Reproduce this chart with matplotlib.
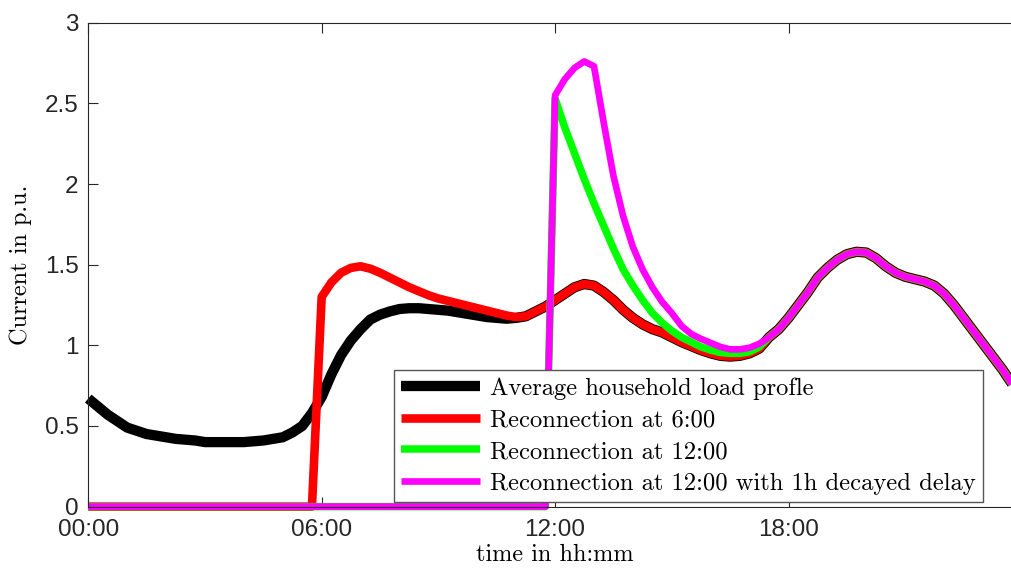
import numpy as np
import matplotlib.pyplot as plt

# time axis in hours, 15 minute steps over one day
hours = np.arange(0, 24.01, 0.25)

# average household load profile (p.u.)
avg_load = [
    0.67, 0.62, 0.57, 0.53, 0.49, 0.47, 0.45, 0.44,       # 00:00 - 01:45
    0.43, 0.42, 0.415, 0.41, 0.40, 0.40, 0.40, 0.40,      # 02:00 - 03:45
    0.40, 0.405, 0.41, 0.42, 0.43, 0.46, 0.50, 0.58,      # 04:00 - 05:45
    0.68, 0.82, 0.94, 1.03, 1.10, 1.16, 1.19, 1.21,       # 06:00 - 07:45
    1.225, 1.23, 1.23, 1.225, 1.22, 1.215, 1.205, 1.195,  # 08:00 - 09:45
    1.185, 1.175, 1.17, 1.165, 1.17, 1.18, 1.21, 1.24,    # 10:00 - 11:45
    1.28, 1.32, 1.36, 1.38, 1.37, 1.33, 1.28, 1.22,       # 12:00 - 13:45
    1.17, 1.13, 1.10, 1.08, 1.05, 1.02, 0.995, 0.97,      # 14:00 - 15:45
    0.95, 0.935, 0.93, 0.935, 0.95, 0.98, 1.05, 1.10,     # 16:00 - 17:45
    1.17, 1.25, 1.33, 1.42, 1.48, 1.53, 1.565, 1.58,      # 18:00 - 19:45
    1.575, 1.54, 1.49, 1.45, 1.425, 1.41, 1.395, 1.37,    # 20:00 - 21:45
    1.32, 1.25, 1.17, 1.09, 1.01, 0.93, 0.85, 0.76,       # 22:00 - 23:45
    0.67,                                                 # 24:00
]

# reconnection at 6:00 -> 0 until 05:45, cold load pickup 06:00 - 11:00
reco6_pickup = [
    1.30, 1.39, 1.45, 1.48, 1.49, 1.475, 1.45, 1.42,
    1.39, 1.36, 1.335, 1.31, 1.29, 1.275, 1.26, 1.245,
    1.23, 1.215, 1.20, 1.185, 1.175,
]

# reconnection at 12:00 -> 0 until 11:45, pickup 12:00 - 17:15
reco12_pickup = [
    2.53, 2.35, 2.19, 2.03, 1.88, 1.74, 1.60, 1.47,
    1.37, 1.28, 1.20, 1.14, 1.09, 1.05, 1.02, 0.99,
    0.97, 0.955, 0.95, 0.95, 0.96, 0.99,
]

# reconnection at 12:00 with 1h decayed delay, pickup 12:00 - 17:15
reco12_delay_pickup = [
    2.55, 2.65, 2.72, 2.76, 2.73, 2.38, 2.05, 1.80,
    1.61, 1.47, 1.36, 1.27, 1.20, 1.12, 1.07, 1.04,
    1.015, 0.99, 0.975, 0.975, 0.985, 1.01,
]

labels = [
    'Average household load profle',
    'Reconnection at 6:00',
    'Reconnection at 12:00',
    'Reconnection at 12:00 with 1h decayed delay',
]

avg_load = np.array(avg_load)


def reconnect(start, pickup):
    # zero before reconnection, pickup values, then the normal profile
    i0 = int(start * 4)
    i1 = i0 + len(pickup)
    return np.concatenate([np.zeros(i0), pickup, avg_load[i1:]])


reco6 = reconnect(6, reco6_pickup)
reco12 = reconnect(12, reco12_pickup)
reco12_delay = reconnect(12, reco12_delay_pickup)

axis_col = '#262626'
tick_font = 'Liberation Sans'
label_font = 'cmr10'

fig = plt.figure(figsize=(10.11, 5.72), dpi=100)
ax = fig.add_axes([0.0873, 0.1143, 0.9235, 0.846])

styles = dict(solid_capstyle='butt', solid_joinstyle='round', clip_on=False)
ax.plot(hours, avg_load, color='black', lw=7.4, label=labels[0], **styles)
ax.plot(hours, reco6, color='#ff0000', lw=6.2, label=labels[1], **styles)
ax.plot(hours, reco12, color='#00ff00', lw=5.4, label=labels[2], **styles)
ax.plot(hours, reco12_delay, color='#ff00ff', lw=4.8, label=labels[3], **styles)

ax.set_xlim(0, 24)
ax.set_ylim(0, 3)
ax.set_xticks([0, 6, 12, 18])
ax.set_xticklabels(['00:00', '06:00', '12:00', '18:00'])
ax.set_yticks([0, 0.5, 1, 1.5, 2, 2.5, 3])
ax.set_yticklabels(['0', '0.5', '1', '1.5', '2', '2.5', '3'])

for side in ax.spines.values():
    side.set_color(axis_col)
    side.set_linewidth(0.8)
ax.tick_params(direction='in', length=7, width=0.8, color=axis_col,
               top=True, right=True, pad=7, labelsize=17.5, labelcolor=axis_col)
ax.tick_params(axis='x', pad=9)
for t in ax.get_xticklabels() + ax.get_yticklabels():
    t.set_fontfamily(tick_font)

ax.set_xlabel('time in hh:mm', fontfamily=label_font, fontsize=17.5, labelpad=2)
ax.set_ylabel('Current in p.u.', fontfamily=label_font, fontsize=17.5, labelpad=9)

leg = ax.legend(loc='lower right', bbox_to_anchor=(0.9723, 0.1224),
                bbox_transform=fig.transFigure, borderaxespad=0,
                prop={'family': label_font, 'size': 17.7},
                handlelength=3.2, handletextpad=0.4, borderpad=0.3,
                labelspacing=0.38, fancybox=False, framealpha=1)
leg.get_frame().set_edgecolor('#555555')
leg.get_frame().set_linewidth(1.0)

fig.savefig('out.png', dpi=100)
